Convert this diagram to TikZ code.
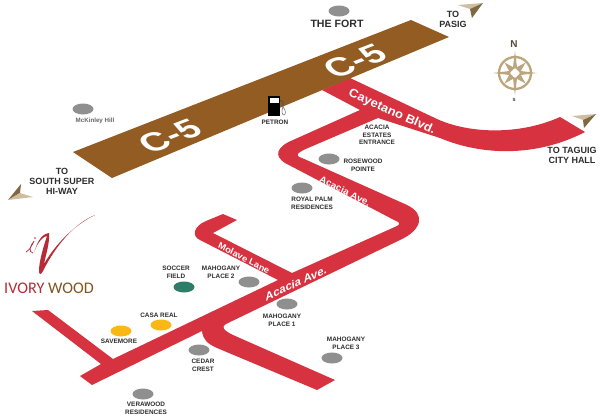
\documentclass[tikz,border=0pt]{standalone}
\usepackage{fontspec}
\setmainfont{Liberation Sans}
\newfontfamily\logofont{Carlito}
\usetikzlibrary{positioning, shapes.geometric}

\definecolor{roadred}{RGB}{214,50,64}
\definecolor{roadbrown}{RGB}{146,92,34}
\definecolor{dotgray}{RGB}{143,143,143}
\definecolor{dotyellow}{RGB}{250,184,20}
\definecolor{dotgreen}{RGB}{45,125,105}
\definecolor{tanlight}{RGB}{205,190,160}
\definecolor{tandark}{RGB}{128,104,66}
\definecolor{compasstan}{RGB}{186,165,125}
\definecolor{logobrown}{RGB}{130,85,30}
\definecolor{labelgray}{RGB}{45,45,45}

\begin{document}
\begin{tikzpicture}[x=1pt, y=-1pt, on grid,
    place/.style={ellipse, fill=dotgray, minimum width=21pt, minimum height=11pt, inner sep=0pt},
    site/.style={font=\fontsize{6.4}{7.6}\selectfont\bfseries, text=labelgray, align=center, inner sep=0pt},
    direction/.style={font=\fontsize{9}{10}\selectfont\bfseries, text=labelgray, align=center, inner sep=0pt},
    street/.style={text=white, inner sep=0pt, font=\fontsize{#1}{#1}\selectfont\bfseries},
    highway/.style={text=white, inner sep=0pt, font=\fontsize{36}{36}\selectfont\bfseries},
    facetlight/.style={fill=tanlight},
    facetdark/.style={fill=tandark}]
    \useasboundingbox (0,0) rectangle (600,418);
    \fill[white] (0,0) rectangle (600,418);

    % Roads
    \fill[roadred] (350,78) -- (437,119) .. controls (470,134) and (520,135) .. (560,117)
        -- (585,132) .. controls (535,158) and (480,155) .. (440,138) -- (378,118)
        -- (308,148) .. controls (296,153) and (295,156) .. (302,158) -- (407,205)
        .. controls (426,214) and (422,230) .. (400,240)
        -- (226,324) .. controls (221,327) and (223,330) .. (233,335)
        -- (335,380) -- (317,390) -- (217,348) .. controls (208,344) and (203,340) .. (202,331)
        -- (92,385) -- (80,376) -- (101,364) -- (32,311) -- (48,310) -- (113,359)
        -- (278,280) -- (200,240) .. controls (191,236) and (194,226) .. (206,221)
        -- (223,214) -- (237,220) -- (213,233) -- (292,273) -- (397,226)
        .. controls (400,225) and (400,222) .. (396,221) -- (285,163)
        .. controls (274,156) and (276,147) .. (293,140) -- (360,110) -- (322,90) -- cycle;
    \fill[roadbrown] (73,152) -- (411,20) -- (449,37) -- (112,178) -- cycle;

    % Road names
    \node[highway, cm={.93,.36,-.62,.62,(0,0)}] (c5west) at (170,136) {C-5};
    \node[highway, cm={.93,.36,-.62,.62,(0,0)}] (c5east) at (355,61) {C-5};
    \node[street=13, cm={.91,-.41,.38,.85,(0,0)}] (cayetano) at (392,112) {Cayetano Blvd.};
    \node[street=10, cm={.89,-.45,.38,.85,(0,0)}] (acaciaup) at (345,191) {Acacia Ave.};
    \node[street=12, cm={.91,.42,-.1,.95,(0,0)}] (acacialow) at (296,283) {Acacia Ave.};
    \node[street=9.5, cm={.88,-.47,.38,.85,(0,0)}] (molave) at (244,258) {Molave Lane};

    % Places
    \node[place] (fort) at (339,11) {};
    \node[place] (mckinley) at (83,109) {};
    \node[place] (rosewood) at (329,159) {};
    \node[place] (royal) at (302,188) {};
    \node[place] (mahog2) at (249,282) {};
    \node[place] (mahog1) at (287,304) {};
    \node[place] (mahog3) at (332,358) {};
    \node[place] (cedar) at (199,350) {};
    \node[place] (verawood) at (143,394) {};
    \node[place, fill=dotgreen] (soccer) at (184,287) {};
    \node[place, fill=dotyellow] (casa) at (161,325) {};
    \node[place, fill=dotyellow] (savemore) at (121,331) {};

    % Place labels
    \node[site, font=\fontsize{10.6}{12}\selectfont\bfseries] (fortlabel) [below left=13pt and 2pt of fort] {THE FORT};
    \node[site, font=\fontsize{6.2}{7}\selectfont\bfseries, text=black!60] (mckinleylabel) [below right=12pt and 12pt of mckinley] {McKinley Hill};
    \node[site] (rosewoodlabel) [right=34pt of rosewood, yshift=-6pt] {ROSEWOOD\\POINTE};
    \node[site] (royallabel) [below right=15pt and 10pt of royal] {ROYAL PALM\\RESIDENCES};
    \node[site] (mahog2label) [above left=9.5pt and 28pt of mahog2] {MAHOGANY\\PLACE 2};
    \node[site] (mahog1label) [below left=16pt and 5pt of mahog1] {MAHOGANY\\PLACE 1};
    \node[site] (mahog3label) [above right=15pt and 14pt of mahog3] {MAHOGANY\\PLACE 3};
    \node[site] (cedarlabel) [below right=15.5pt and 4pt of cedar] {CEDAR\\CREST};
    \node[site] (verawoodlabel) [below right=14.5pt and 3pt of verawood] {VERAWOOD\\RESIDENCES};
    \node[site] (soccerlabel) [above left=14.5pt and 8pt of soccer] {SOCCER\\FIELD};
    \node[site] (casalabel) [above left=10pt and 2pt of casa] {CASA REAL};
    \node[site] (savemorelabel) [below left=10pt and 2pt of savemore] {SAVEMORE};
    \node[site] (acacialabel) at (377,135) {ACACIA\\ESTATES\\ENTRANCE};
    \node[site] (petronlabel) at (275,122) {PETRON};

    % Directions
    \node[direction] (pasig) at (453,19) {TO\\PASIG};
    \node[direction] (taguig) at (572,155) {TO TAGUIG\\CITY HALL};
    \node[direction] (south) at (62,181) {TO\\SOUTH SUPER\\HI-WAY};
    \fill[facetlight] (483,3) -- (458,5) -- (470,9) -- cycle;
    \fill[facetdark] (483,3) -- (470,9) -- (472,18) -- cycle;
    \fill[facetlight] (596,114) -- (572,116) -- (583,120) -- cycle;
    \fill[facetdark] (596,114) -- (583,120) -- (584,128) -- cycle;
    \fill[tandark] (8,200) -- (21,184) -- (20,193) -- cycle;
    \fill[tanlight] (8,200) -- (20,193) -- (33,197) -- cycle;

    % Petrol pump
    \fill[black] (268,96) rectangle (280,116);
    \fill[white] (269.5,98) rectangle (279,103);
    \draw[black!70, line width=.6pt] (280,100) -- (283,102) -- (283,107);
    \draw[black!60, line width=.5pt] (283,107) .. controls (281,111) and (282,115) .. (284,115)
        .. controls (286,115) and (286,110) .. (283,107);

    % Compass
    \begin{scope}[shift={(515,73)}]
        \draw[compasstan, line width=2.3pt] (0,0) circle (16);
        \foreach \a in {45,135,225,315}
            \fill[compasstan] (\a:15) -- (\a+40:5) -- (\a-40:5) -- cycle;
        \foreach \a in {0,90,180,270}
            \fill[compasstan] (\a:22) -- (\a+25:5) -- (\a-25:5) -- cycle;
    \end{scope}
    \node[font=\fontsize{10}{10}\selectfont\bfseries, text=black!55!compasstan, inner sep=0pt] (north) at (514,44) {N};
    \node[font=\fontsize{4.5}{5}\selectfont\bfseries, text=labelgray, inner sep=0pt] (southmark) at (514,100) {S};

    % Logo
    \fill[roadred!85!black] (95,215) .. controls (75,223) and (56,245) .. (43,271)
        .. controls (41,275) and (39,275) .. (39,271) .. controls (39,262) and (43,248) .. (47,236)
        .. controls (41,237) and (36,246) .. (34,253) .. controls (36,246) and (40,234) .. (49,233)
        .. controls (50,243) and (45,258) .. (44,264) .. controls (56,243) and (76,224) .. cycle;
    \draw[roadred!85!black, line width=.7pt] (26,252) .. controls (30,250) and (32,245) .. (34,241)
        .. controls (30,246) and (28,252) .. (33,253);
    \fill[roadred!85!black] (35,238) circle (.9);
    \node[font=\fontsize{16.2}{16}\selectfont\logofont, inner sep=0pt] (logo) at (49,288)
        {\textcolor{roadred!85!black}{IVORY} \textcolor{logobrown}{WOOD}};
\end{tikzpicture}
\end{document}
